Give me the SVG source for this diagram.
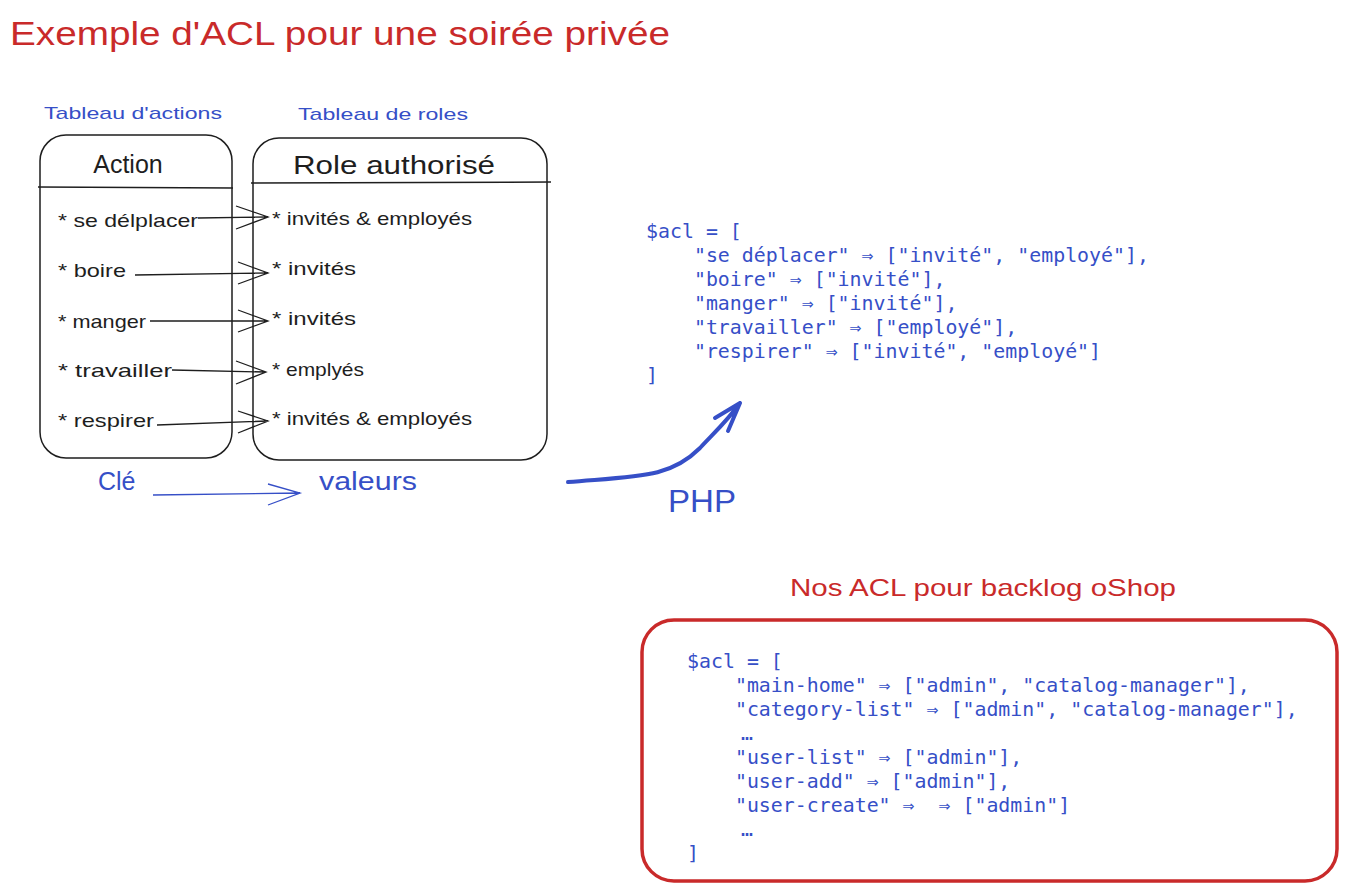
<svg xmlns="http://www.w3.org/2000/svg" width="1346" height="891" viewBox="0 0 1346 891">
<defs>
<style>
.hand{font-family:"Liberation Sans","DejaVu Sans",sans-serif}
.red{fill:#c92a2a}
.blue{fill:#364fc7}
.blk{fill:#1e1e1e}
.code{font-family:"DejaVu Sans Mono","Liberation Mono",monospace;font-size:19.9px;fill:#364fc7;white-space:pre}
.box{fill:none;stroke:#1e1e1e;stroke-width:1.5}
.conn{fill:none;stroke:#1e1e1e;stroke-width:1.3}
.item{font-size:19px}
</style>
</defs>
<rect width="1346" height="891" fill="#ffffff"/>

<g id="title">
<text class="hand red" x="10" y="45" font-size="33" textLength="660" lengthAdjust="spacingAndGlyphs">Exemple d'ACL pour une soirée privée</text>
</g>

<g id="label-actions">
<text class="hand blue" x="44" y="119" font-size="17" textLength="178" lengthAdjust="spacingAndGlyphs">Tableau d'actions</text>
</g>
<g id="label-roles">
<text class="hand blue" x="298" y="120" font-size="17" textLength="170" lengthAdjust="spacingAndGlyphs">Tableau de roles</text>
</g>

<g id="table-actions">
<rect class="box" x="40" y="135" width="192" height="323" rx="26"/>
<line class="box" x1="38" y1="187" x2="233" y2="188"/>
<text class="hand blk" x="128" y="173" font-size="25" text-anchor="middle">Action</text>
<text class="hand blk item" x="58" y="227" textLength="140" lengthAdjust="spacingAndGlyphs">* se délplacer</text>
<text class="hand blk item" x="58" y="277" textLength="68" lengthAdjust="spacingAndGlyphs">* boire</text>
<text class="hand blk item" x="58" y="328" textLength="88" lengthAdjust="spacingAndGlyphs">* manger</text>
<text class="hand blk item" x="58" y="377" textLength="114" lengthAdjust="spacingAndGlyphs">* travailler</text>
<text class="hand blk item" x="58" y="427" textLength="96" lengthAdjust="spacingAndGlyphs">* respirer</text>
</g>

<g id="table-roles">
<rect class="box" x="253" y="138" width="294" height="322" rx="26"/>
<line class="box" x1="251" y1="183" x2="551" y2="182"/>
<text class="hand blk" x="293" y="174" font-size="26" textLength="202" lengthAdjust="spacingAndGlyphs">Role authorisé</text>
<text class="hand blk item" x="272" y="225" textLength="200" lengthAdjust="spacingAndGlyphs">* invités &amp; employés</text>
<text class="hand blk item" x="272" y="275" textLength="84" lengthAdjust="spacingAndGlyphs">* invités</text>
<text class="hand blk item" x="272" y="325" textLength="84" lengthAdjust="spacingAndGlyphs">* invités</text>
<text class="hand blk item" x="272" y="376" textLength="92" lengthAdjust="spacingAndGlyphs">* emplyés</text>
<text class="hand blk item" x="272" y="425" textLength="200" lengthAdjust="spacingAndGlyphs">* invités &amp; employés</text>
</g>

<g id="label-cle">
<text class="hand blue" x="98" y="490" font-size="25">Clé</text>
</g>
<g id="label-valeurs">
<text class="hand blue" x="319" y="490" font-size="25" textLength="98" lengthAdjust="spacingAndGlyphs">valeurs</text>
</g>
<g id="label-php">
<text class="hand blue" x="668" y="512" font-size="32" textLength="68" lengthAdjust="spacingAndGlyphs">PHP</text>
</g>

<g id="code-example">
<text class="code" x="646" y="238">$acl = [</text>
<text class="code" x="646" y="262">    "se déplacer" ⇒ ["invité", "employé"],</text>
<text class="code" x="646" y="286">    "boire" ⇒ ["invité"],</text>
<text class="code" x="646" y="310">    "manger" ⇒ ["invité"],</text>
<text class="code" x="646" y="334">    "travailler" ⇒ ["employé"],</text>
<text class="code" x="646" y="358">    "respirer" ⇒ ["invité", "employé"]</text>
<text class="code" x="646" y="382">]</text>
</g>

<g id="label-oshop">
<text class="hand red" x="983" y="596" font-size="24" text-anchor="middle" textLength="386" lengthAdjust="spacingAndGlyphs">Nos ACL pour backlog oShop</text>
</g>

<g id="code-oshop">
<rect x="642" y="620" width="695" height="261" rx="32" fill="none" stroke="#c92a2a" stroke-width="3.5"/>
<text class="code" x="687" y="668">$acl = [</text>
<text class="code" x="687" y="692">    "main-home" ⇒ ["admin", "catalog-manager"],</text>
<text class="code" x="687" y="716">    "category-list" ⇒ ["admin", "catalog-manager"],</text>
<text class="code" x="741" y="740">…</text>
<text class="code" x="687" y="764">    "user-list" ⇒ ["admin"],</text>
<text class="code" x="687" y="788">    "user-add" ⇒ ["admin"],</text>
<text class="code" x="687" y="812">    "user-create" ⇒  ⇒ ["admin"]</text>
<text class="code" x="741" y="836">…</text>
<text class="code" x="687" y="860">]</text>
</g>

<g id="connectors">
<path class="conn" d="M198 218 L268 217 M236 206 L268 217 L236 229"/>
<path class="conn" d="M135 275 L268 273 M238 262 L268 273 L238 284"/>
<path class="conn" d="M150 321 L268 321 M238 310 L268 321 L238 332"/>
<path class="conn" d="M172 370 L266 372 M236 361 L266 372 L236 384"/>
<path class="conn" d="M157 425 L268 421 M238 411 L268 421 L238 433"/>
<path d="M153 495 L300 493 M268 484 L300 493 L268 505" fill="none" stroke="#364fc7" stroke-width="1.3"/>
<path d="M568 482 C640 476 670 478 700 448 C715 432 728 420 740 403 M740 403 L715 418 M740 403 L728 431" fill="none" stroke="#364fc7" stroke-width="4" stroke-linecap="round" stroke-linejoin="round"/>
</g>
</svg>
